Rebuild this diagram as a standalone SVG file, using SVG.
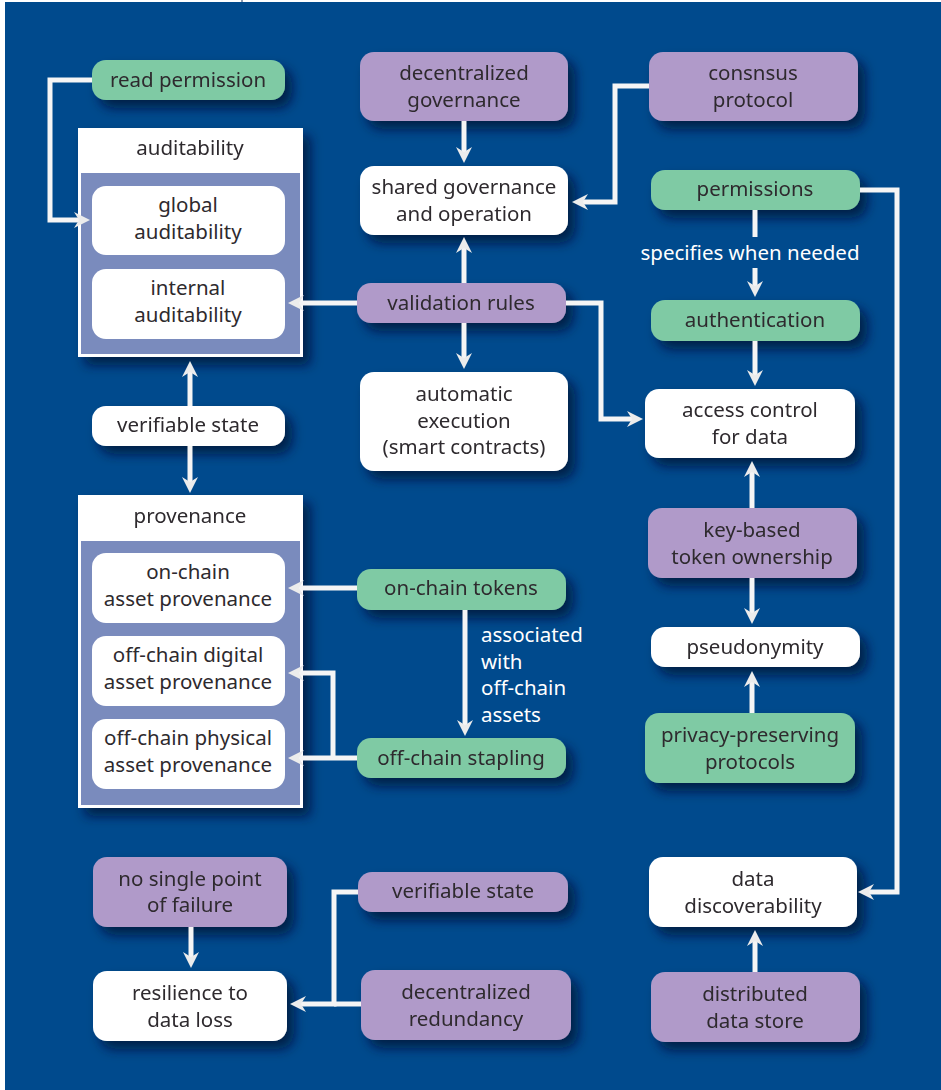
<svg xmlns="http://www.w3.org/2000/svg" width="941" height="1090" viewBox="0 0 941 1090">
<defs>
<filter id="sh" x="-20%" y="-30%" width="150%" height="180%">
<feDropShadow dx="7" dy="8" stdDeviation="6" flood-color="#001530" flood-opacity="0.75"/>
</filter>
<marker id="ah" viewBox="0 0 16 16" markerWidth="16" markerHeight="16" markerUnits="userSpaceOnUse" refX="10" refY="8" orient="auto">
<path d="M0,0 L16,8 L0,16 L5,8 Z" fill="#ececec"/>
</marker>
<style>
.n{filter:url(#sh)}
.w{fill:#ffffff}
.p{fill:#b09ac9}
.g{fill:#7fcaa4}
.t{font-family:"Noto Sans","Open Sans",sans-serif;font-size:20.5px;fill:#2e2a2e;text-anchor:middle}
.l{font-family:"Noto Sans","Open Sans",sans-serif;font-size:20.5px;fill:#ffffff}
.c{fill:none;stroke:#f5f5f5;stroke-width:5}
.a{marker-end:url(#ah)}
</style>
</defs>
<rect x="5" y="2" width="936" height="1088" fill="#004a8d"/>
<rect x="241" y="0" width="2" height="2" fill="#8c9ab0"/>

<g id="read-permission" class="n"><rect class="g" x="92" y="60" width="193" height="40" rx="14"/><text class="t" x="188" y="87">read permission</text></g>

<g id="auditability" class="n">
<rect x="78" y="128" width="225" height="229" fill="#ffffff"/>
<rect x="81" y="173" width="219" height="181" fill="#7a8bbd"/>
<text class="t" x="190" y="155">auditability</text>
</g>
<g id="global-auditability"><rect class="w" x="92" y="186" width="193" height="69" rx="14"/><text class="t" x="188" y="212">global</text><text class="t" x="188" y="239">auditability</text></g>
<g id="internal-auditability"><rect class="w" x="92" y="269" width="193" height="70" rx="14"/><text class="t" x="188" y="295">internal</text><text class="t" x="188" y="322">auditability</text></g>

<g id="decentralized-governance" class="n"><rect class="p" x="360" y="52" width="208" height="69" rx="14"/><text class="t" x="464" y="80">decentralized</text><text class="t" x="464" y="107">governance</text></g>
<g id="shared-governance" class="n"><rect class="w" x="360" y="166" width="208" height="69" rx="14"/><text class="t" x="464" y="194">shared governance</text><text class="t" x="464" y="221">and operation</text></g>
<g id="validation-rules" class="n"><rect class="p" x="357" y="283" width="209" height="40" rx="14"/><text class="t" x="461" y="310">validation rules</text></g>
<g id="automatic-execution" class="n"><rect class="w" x="360" y="372" width="208" height="99" rx="14"/><text class="t" x="464" y="401">automatic</text><text class="t" x="464" y="428">execution</text><text class="t" x="464" y="454">(smart contracts)</text></g>

<g id="consensus-protocol" class="n"><rect class="p" x="649" y="52" width="209" height="69" rx="14"/><text class="t" x="753" y="80">consnsus</text><text class="t" x="753" y="107">protocol</text></g>
<g id="permissions" class="n"><rect class="g" x="651" y="170" width="209" height="40" rx="14"/><text class="t" x="755" y="196">permissions</text></g>
<g id="authentication" class="n"><rect class="g" x="651" y="300" width="209" height="41" rx="14"/><text class="t" x="755" y="327">authentication</text></g>
<g id="access-control" class="n"><rect class="w" x="645" y="389" width="210" height="69" rx="14"/><text class="t" x="750" y="417">access control</text><text class="t" x="750" y="444">for data</text></g>
<g id="key-based-token-ownership" class="n"><rect class="p" x="648" y="508" width="209" height="70" rx="14"/><text class="t" x="752" y="537">key-based</text><text class="t" x="752" y="564">token ownership</text></g>
<g id="pseudonymity" class="n"><rect class="w" x="651" y="627" width="209" height="40" rx="14"/><text class="t" x="755" y="654">pseudonymity</text></g>
<g id="privacy-preserving-protocols" class="n"><rect class="g" x="645" y="713" width="210" height="70" rx="14"/><text class="t" x="750" y="742">privacy-preserving</text><text class="t" x="750" y="769">protocols</text></g>

<g id="verifiable-state-1" class="n"><rect class="w" x="92" y="406" width="193" height="40" rx="14"/><text class="t" x="188" y="432">verifiable state</text></g>

<g id="provenance" class="n">
<rect x="78" y="495" width="225" height="313" fill="#ffffff"/>
<rect x="81" y="541" width="219" height="264" fill="#7a8bbd"/>
<text class="t" x="190" y="523">provenance</text>
</g>
<g id="on-chain-asset-provenance"><rect class="w" x="92" y="553" width="193" height="70" rx="14"/><text class="t" x="188" y="579">on-chain</text><text class="t" x="188" y="606">asset provenance</text></g>
<g id="off-chain-digital-asset-provenance"><rect class="w" x="92" y="636" width="193" height="70" rx="14"/><text class="t" x="188" y="662">off-chain digital</text><text class="t" x="188" y="689">asset provenance</text></g>
<g id="off-chain-physical-asset-provenance"><rect class="w" x="92" y="719" width="193" height="70" rx="14"/><text class="t" x="188" y="745">off-chain physical</text><text class="t" x="188" y="772">asset provenance</text></g>

<g id="on-chain-tokens" class="n"><rect class="g" x="357" y="569" width="209" height="41" rx="14"/><text class="t" x="461" y="595">on-chain tokens</text></g>
<g id="off-chain-stapling" class="n"><rect class="g" x="357" y="738" width="209" height="40" rx="14"/><text class="t" x="461" y="765">off-chain stapling</text></g>

<g id="no-single-point-of-failure" class="n"><rect class="p" x="93" y="857" width="194" height="70" rx="14"/><text class="t" x="190" y="886">no single point</text><text class="t" x="190" y="912">of failure</text></g>
<g id="resilience-to-data-loss" class="n"><rect class="w" x="93" y="971" width="194" height="70" rx="14"/><text class="t" x="190" y="1000">resilience to</text><text class="t" x="190" y="1027">data loss</text></g>
<g id="verifiable-state-2" class="n"><rect class="p" x="358" y="872" width="210" height="40" rx="14"/><text class="t" x="463" y="898">verifiable state</text></g>
<g id="decentralized-redundancy" class="n"><rect class="p" x="361" y="970" width="210" height="70" rx="14"/><text class="t" x="466" y="999">decentralized</text><text class="t" x="466" y="1026">redundancy</text></g>
<g id="data-discoverability" class="n"><rect class="w" x="649" y="857" width="208" height="70" rx="14"/><text class="t" x="753" y="886">data</text><text class="t" x="753" y="913">discoverability</text></g>
<g id="distributed-data-store" class="n"><rect class="p" x="651" y="972" width="209" height="70" rx="14"/><text class="t" x="755" y="1001">distributed</text><text class="t" x="755" y="1028">data store</text></g>

<g id="connectors">
<path class="c a" d="M92,80 H50 V220 H84"/>
<path class="c a" d="M464,121 V157"/>
<path class="c a" d="M649,86 H615 V202 H578"/>
<path class="c a" d="M464,283 V243"/>
<path class="c a" d="M357,303 H294"/>
<path class="c a" d="M464,323 V363"/>
<path class="c a" d="M566,303 H601 V419 H637"/>
<path class="c" d="M755,210 V237"/>
<path class="c a" d="M755,268 V291"/>
<path class="c a" d="M860,190 H897 V892 H864"/>
<path class="c a" d="M755,341 V380"/>
<path class="c a" d="M752,508 V467"/>
<path class="c a" d="M752,578 V618"/>
<path class="c a" d="M752,713 V677"/>
<path class="c a" d="M190,406 V367"/>
<path class="c a" d="M190,446 V487"/>
<path class="c a" d="M357,588 H294"/>
<path class="c a" d="M465,610 V730"/>
<path class="c a" d="M357,758 H294"/>
<path class="c a" d="M333,758 V673 H294"/>
<path class="c a" d="M191,927 V962"/>
<path class="c a" d="M358,892 H334 V1004 H296"/>
<path class="c" d="M361,1004 H334"/>
<path class="c a" d="M755,972 V936"/>
<text class="l" x="750" y="260" text-anchor="middle">specifies when needed</text>
<text class="l" x="481" y="642">associated</text>
<text class="l" x="481" y="669">with</text>
<text class="l" x="481" y="695">off-chain</text>
<text class="l" x="481" y="722">assets</text>
</g>
</svg>
